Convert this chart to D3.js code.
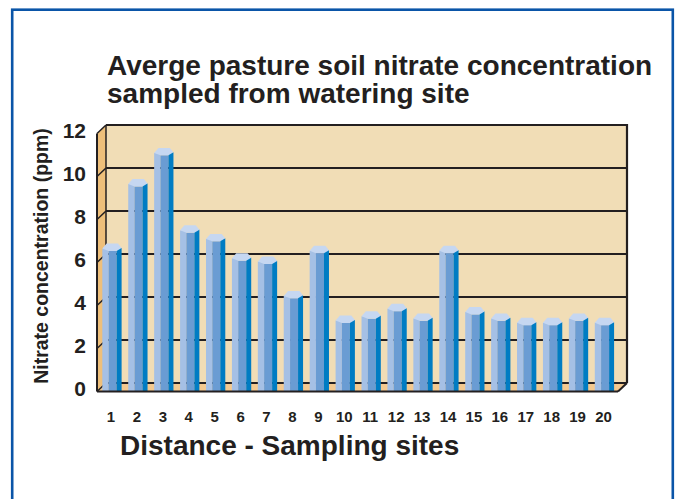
<!DOCTYPE html>
<html>
<head>
<meta charset="utf-8">
<script src="https://cdn.jsdelivr.net/npm/d3@7"></script>
<style>
  html, body { margin: 0; padding: 0; background: #ffffff; }
  svg { display: block; }
  text { font-family: "Liberation Sans", Arial, Helvetica, sans-serif; font-weight: bold; fill: #231f20; }
</style>
</head>
<body>
<script>
// ---- data ----
const categories = ["1","2","3","4","5","6","7","8","9","10","11","12","13","14","15","16","17","18","19","20"];
const nitrateValues = [6.55, 9.55, 11.0, 7.4, 7.0, 6.1, 5.95, 4.35, 6.45, 3.2, 3.4, 3.75, 3.3, 6.45, 3.6, 3.3, 3.1, 3.1, 3.3, 3.1];
const yTickValues = [0, 2, 4, 6, 8, 10, 12];
const titleLines = ["Averge pasture soil nitrate concentration", "sampled from watering site"];
const xAxisTitle = "Distance - Sampling sites";
const yAxisTitle = "Nitrate concentration (ppm)";

const W = 680, H = 499;
const svg = d3.select("body").append("svg").attr("width", W).attr("height", H);

// frame
svg.append("rect").attr("x", 12.2).attr("y", 9.7).attr("width", 660.6).attr("height", 510)
  .attr("fill", "#ffffff").attr("stroke", "#0a55a8").attr("stroke-width", 2.6);

// plot geometry (back wall)
const backL = 106, backR = 627, backTop = 125, backBot = 383;
const dX = -9, dY = 8.5; // depth offset to front plane

const y = d3.scaleLinear().domain([0, 12]).range([backBot, backTop]);
const x = d3.scaleBand().domain(categories).range([99.05, 617.45]).padding(0);

const C = { back: "#f1ddb6", left: "#eebf7a", floor: "#f3c98f", line: "#231f20",
            barL: "#a5c0e5", barF: "#6a9cd3", barR: "#007cc3", barT: "#c6d7f1" };

// back wall
svg.append("rect").attr("x", backL).attr("y", backTop).attr("width", backR - backL).attr("height", backBot - backTop)
  .attr("fill", C.back);
// left wall
svg.append("polygon").attr("points", [[backL + dX, backTop + dY], [backL, backTop], [backL, backBot], [backL + dX, backBot + dY]].join(" "))
  .attr("fill", C.left);
// floor
svg.append("polygon").attr("points", [[backL, backBot], [backR, backBot], [backR + dX, backBot + dY], [backL + dX, backBot + dY]].join(" "))
  .attr("fill", C.floor);

// gridlines (back wall + left wall)
const grid = svg.append("g").attr("stroke", C.line).attr("fill", "none");
yTickValues.forEach(v => {
  grid.append("line").attr("x1", backL).attr("x2", backR).attr("y1", y(v)).attr("y2", y(v))
    .attr("stroke-width", v === 12 ? 2.2 : 1.8);
  grid.append("line").attr("x1", backL + dX).attr("y1", y(v) + dY).attr("x2", backL).attr("y2", y(v))
    .attr("stroke-width", 1.5);
});
// wall edges
grid.append("line").attr("x1", backL).attr("x2", backL).attr("y1", backTop).attr("y2", backBot).attr("stroke-width", 1.5);
grid.append("line").attr("x1", backR).attr("x2", backR).attr("y1", backTop - 1).attr("y2", backBot).attr("stroke-width", 2.2);
grid.append("line").attr("x1", backL + dX).attr("x2", backL + dX).attr("y1", backTop + dY).attr("y2", backBot + dY).attr("stroke-width", 2);

// bars (hexagonal prisms)
const bars = svg.append("g");
categories.forEach((c, i) => {
  const v = nitrateValues[i];
  const cx = x(c) + x.bandwidth() / 2;
  const top = y(v) + 8.8;         // front edge of top cap
  const bot = backBot + dY;        // front floor line
  const g = bars.append("g");
  g.append("rect").attr("x", cx - 9.7).attr("y", top - 2.4).attr("width", 6.3).attr("height", bot - top + 2.4).attr("fill", C.barL);
  g.append("rect").attr("x", cx - 3.4).attr("y", top).attr("width", 8.0).attr("height", bot - top).attr("fill", C.barF);
  g.append("rect").attr("x", cx + 4.6).attr("y", top - 3).attr("width", 5.0).attr("height", bot - top + 3).attr("fill", C.barR);
  g.append("polygon").attr("points", [[cx - 3.4, top], [cx + 4.6, top], [cx + 9.6, top - 3], [cx + 6, top - 7.4], [cx - 5.4, top - 7.4], [cx - 9.7, top - 2.4]].join(" "))
    .attr("fill", C.barT);
});

// front floor edges
svg.append("line").attr("x1", backL + dX).attr("x2", backR + dX).attr("y1", backBot + dY).attr("y2", backBot + dY)
  .attr("stroke", C.line).attr("stroke-width", 2.2);
svg.append("line").attr("x1", backR + dX).attr("y1", backBot + dY).attr("x2", backR).attr("y2", backBot)
  .attr("stroke", C.line).attr("stroke-width", 2);

// y axis labels
const yAxis = svg.append("g").attr("transform", "translate(86,0)")
  .call(d3.axisLeft(y).tickValues(yTickValues).tickSize(0).tickPadding(0));
yAxis.select(".domain").remove();
yAxis.selectAll("text").attr("dy", null).attr("y", 12.5)
  .style("font-size", "21px").style("font-family", "Liberation Sans, Arial, sans-serif").style("font-weight", "bold").attr("fill", C.line);

// x axis labels
const xAxis = svg.append("g").attr("transform", "translate(-1,0)")
  .call(d3.axisBottom(x).tickSize(0).tickPadding(0));
xAxis.select(".domain").remove();
xAxis.selectAll("text").attr("dy", null).attr("y", 422)
  .style("font-size", "15px").style("font-family", "Liberation Sans, Arial, sans-serif").style("font-weight", "bold").attr("fill", C.line);

// titles
svg.append("text").attr("x", 107).attr("y", 75).style("font-size", "28px").text(titleLines[0]);
svg.append("text").attr("x", 107).attr("y", 103).style("font-size", "28px").text(titleLines[1]);
svg.append("text").attr("x", 120).attr("y", 455).style("font-size", "28px").text(xAxisTitle);
svg.append("text").attr("transform", "translate(48,256) rotate(-90)").attr("text-anchor", "middle")
  .style("font-size", "19.5px").text(yAxisTitle);
</script>
</body>
</html>
